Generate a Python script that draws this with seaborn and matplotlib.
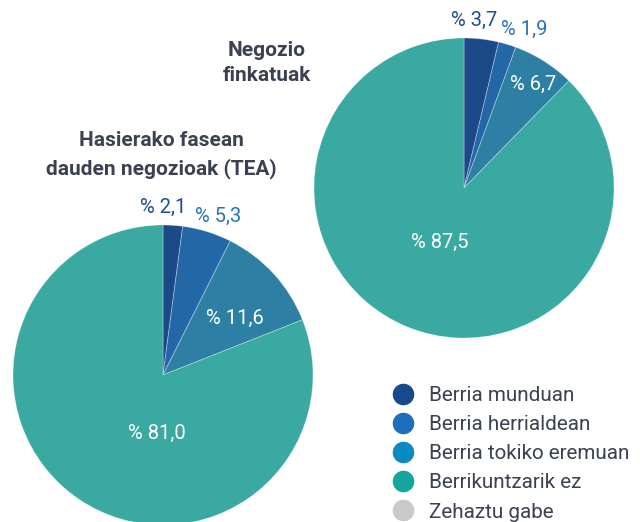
import numpy as np
import matplotlib
matplotlib.use("Agg")
import matplotlib.pyplot as plt
from matplotlib.lines import Line2D
import seaborn as sns

# ---- data ----
categories = ["Berria munduan", "Berria herrialdean", "Berria tokiko eremuan",
              "Berrikuntzarik ez", "Zehaztu gabe"]
tea_values = [2.1, 5.3, 11.6, 81.0]
established_values = [3.7, 1.9, 6.7, 87.5]
tea_labels = ["% 2,1", "% 5,3", "% 11,6", "% 81,0"]
established_labels = ["% 3,7", "% 1,9", "% 6,7", "% 87,5"]
title_tea = "Hasierako fasean\ndauden negozioak (TEA)"
title_est = "Negozio\nfinkatuak"

# ---- style ----
sns.set_theme(style="white")
plt.rcParams["font.family"] = ["Roboto", "DejaVu Sans"]

pie_colors = ["#1c4a89", "#2467a7", "#2d7fa3", "#3aa9a1"]
legend_colors = ["#174a8c", "#1e6ebd", "#0a8abf", "#13a69b", "#c8c9ca"]
outside_label_colors = ["#1f4e8c", "#2a73bb"]
text_dark = "#3a4150"

W, H = 640, 522
fig = plt.figure(figsize=(W / 100, H / 100), dpi=100)
ax = fig.add_axes([0, 0, 1, 1])

# pie geometry (pixel coordinates, y measured from top)
pies = [
    dict(values=tea_values, labels=tea_labels, cx=163, cy=375, r=150,
         lab_pos=[(0, 1.12), (19, 1.12), (52, 0.61), (186, 0.39)]),
    dict(values=established_values, labels=established_labels, cx=464, cy=188, r=150,
         lab_pos=[(3.4, 1.12), (20.7, 1.13), (33.8, 0.83), (204, 0.40)]),
]

for p in pies:
    cx, cy_data = p["cx"], H - p["cy"]
    wedges, _ = ax.pie(p["values"], colors=pie_colors, startangle=90,
                       counterclock=False, center=(cx, cy_data), radius=p["r"],
                       wedgeprops=dict(edgecolor=(1, 1, 1, 0.35), linewidth=0.6))
    for i, (txt, (ang, rf)) in enumerate(zip(p["labels"], p["lab_pos"])):
        a = np.deg2rad(ang)
        x = cx + p["r"] * rf * np.sin(a)
        y = cy_data + p["r"] * rf * np.cos(a)
        color = outside_label_colors[i] if rf > 1 else "white"
        ax.text(x, y, txt, ha="center", va="center", fontsize=14.5,
                fontweight="normal", color=color)

ax.text(161, H - 155, title_tea, ha="center", va="center", fontsize=15,
        fontweight="bold", color=text_dark, linespacing=1.5)
ax.text(267, H - 63, title_est, ha="center", va="center", fontsize=15,
        fontweight="bold", color=text_dark, linespacing=1.4)

ax.set_xlim(0, W)
ax.set_ylim(0, H)
ax.set_aspect("equal")
ax.axis("off")

handles = [Line2D([0], [0], marker="o", linestyle="none", markersize=14.5,
                  markerfacecolor=c, markeredgecolor=c) for c in legend_colors]
fig.legend(handles, categories, loc="upper left",
           bbox_to_anchor=(393 / W, 1 - 386 / H), frameon=False,
           fontsize=14.9, labelcolor=text_dark, handlelength=1.0,
           handletextpad=0.75, labelspacing=0.49, borderpad=0, borderaxespad=0)

fig.savefig("out.png", dpi=100)
